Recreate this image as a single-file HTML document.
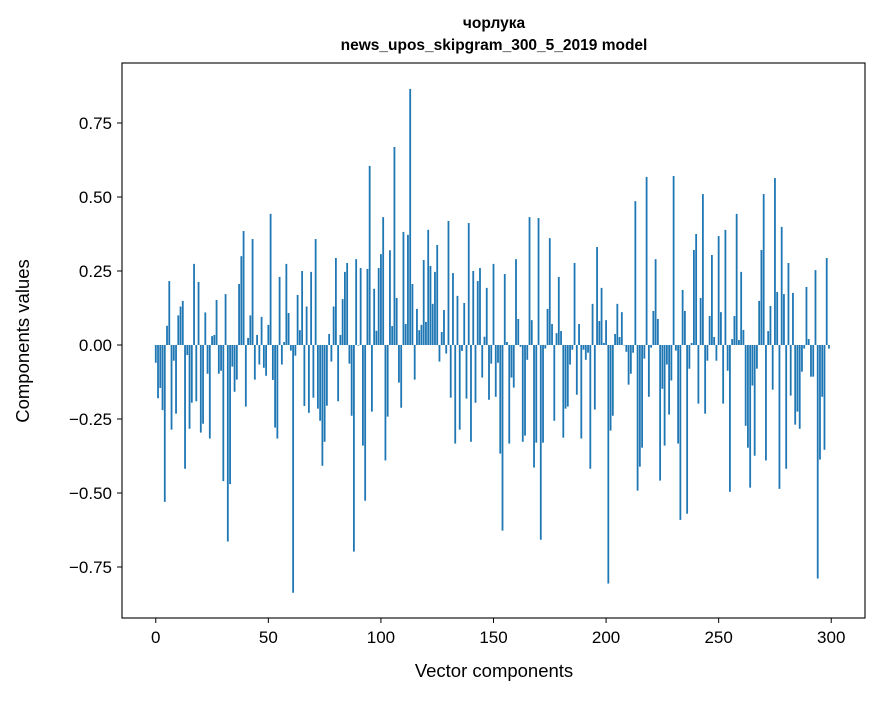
<!DOCTYPE html>
<html><head><meta charset="utf-8"><style>
body{margin:0;background:#fff;}
svg text{font-family:"Liberation Sans","DejaVu Sans",sans-serif;fill:#000;}
</style></head><body>
<svg id="chart" width="880" height="696" xmlns="http://www.w3.org/2000/svg">
<rect width="880" height="696" fill="#fff"/>
<text x="494" y="28" text-anchor="middle" font-size="15.5" font-weight="bold">чорлука</text>
<text x="494" y="50" text-anchor="middle" font-size="15.5" font-weight="bold">news_upos_skipgram_300_5_2019 model</text>
<g id="bars"></g>
<rect x="122" y="63" width="743" height="555" fill="none" stroke="#000" stroke-width="1.1"/>
<g id="xticks"></g>
<g id="yticks"></g>
<text x="494" y="677" text-anchor="middle" font-size="18.5">Vector components</text>
<text transform="translate(29,341) rotate(-90)" text-anchor="middle" font-size="18.5">Components values</text>
</svg>
<script>
const values = [-0.06,-0.18,-0.145,-0.22,-0.53,0.065,0.216,-0.286,-0.053,-0.232,
0.10,0.13,0.149,-0.418,-0.034,-0.283,-0.195,0.274,-0.19,0.213,
-0.296,-0.266,0.11,-0.097,-0.316,0.03,0.034,0.152,-0.097,-0.087,
-0.46,0.172,-0.664,-0.47,-0.073,-0.158,-0.117,0.206,0.30,0.385,
-0.208,0.024,0.10,0.358,-0.117,0.034,-0.066,0.095,-0.077,-0.104,
0.068,0.443,-0.118,-0.279,-0.316,0.23,-0.066,0.01,0.274,0.108,
-0.019,-0.837,-0.036,0.169,0.05,0.25,-0.206,0.13,-0.229,0.247,
-0.178,0.358,-0.215,-0.256,-0.408,-0.327,-0.205,0.037,-0.056,0.13,
0.294,-0.19,0.034,0.155,0.247,0.277,-0.063,-0.239,-0.698,0.29,
-0.002,0.26,-0.34,-0.526,0.257,0.605,-0.225,0.19,0.048,0.26,
0.307,0.432,-0.39,-0.242,0.32,0.064,0.669,0.159,-0.127,-0.212,
0.382,0.071,0.372,0.865,0.206,-0.117,0.122,0.05,0.068,0.287,
0.078,0.389,0.267,0.139,0.247,0.338,-0.056,0.044,0.118,-0.029,
0.419,-0.178,0.243,-0.333,0.166,-0.286,-0.02,0.142,-0.181,0.412,
-0.327,0.25,-0.195,0.216,0.26,-0.11,0.028,0.193,-0.185,-0.063,
0.274,-0.175,-0.06,-0.367,-0.627,0.24,0.01,-0.333,-0.11,-0.144,
0.29,0.088,-0.006,-0.327,-0.306,-0.05,0.432,0.084,-0.414,-0.33,
0.429,-0.658,-0.33,-0.012,0.122,0.361,0.071,-0.256,0.04,0.23,
0.047,-0.313,-0.215,-0.208,-0.066,-0.016,0.277,-0.168,0.071,-0.316,
-0.016,-0.05,-0.026,-0.418,0.139,-0.218,0.331,0.081,0.193,0.007,
0.084,-0.806,-0.289,-0.239,0.037,0.139,0.027,0.111,0.0,-0.023,
-0.134,-0.097,-0.026,0.486,-0.492,-0.411,-0.347,-0.046,0.568,-0.175,
-0.009,0.115,0.29,0.088,-0.458,-0.148,-0.34,-0.066,-0.235,-0.12,
0.571,-0.019,-0.333,-0.591,0.186,0.115,-0.57,-0.08,0.007,0.321,
0.375,-0.198,0.159,0.51,-0.232,-0.053,0.098,0.304,0.027,-0.053,
0.368,0.111,-0.198,0.389,-0.087,-0.496,0.02,0.098,0.443,0.017,
0.247,0.051,-0.273,-0.347,-0.482,-0.137,-0.374,-0.08,0.149,0.321,
0.51,-0.39,0.047,0.132,-0.151,0.564,0.179,-0.486,0.399,0.172,
-0.418,0.277,-0.171,0.176,-0.269,-0.225,-0.283,-0.09,-0.012,0.196,
0.02,-0.107,-0.107,0.253,-0.789,-0.387,-0.175,-0.354,0.294,-0.012];
const xTickValues = [0,50,100,150,200,250,300];
const yTickValues = [-0.75,-0.50,-0.25,0.00,0.25,0.50,0.75];
const yTickLabels = ["\u22120.75","\u22120.50","\u22120.25","0.00","0.25","0.50","0.75"];

const NS="http://www.w3.org/2000/svg";
function xScale(v){return 122 + (v+15)*(743/330);}
function yScale(v){return 345 - v*296;}
const bw = 0.8*(743/330);
const bars=document.getElementById('bars');
values.forEach((v,i)=>{
  const r=document.createElementNS(NS,'rect');
  
  
  const y0=yScale(0), y1=yScale(v);
  r.setAttribute('x',xScale(i)-bw/2);
  r.setAttribute('y',Math.min(y0,y1));
  r.setAttribute('width',bw);
  r.setAttribute('height',Math.max(Math.abs(y1-y0),0.3));
  r.setAttribute('fill','#1f77b4');
  bars.appendChild(r);
});
const xg=document.getElementById('xticks');
xTickValues.forEach(t=>{
  const x=xScale(t);
  const l=document.createElementNS(NS,'line');
  
  
  l.setAttribute('x1',x);l.setAttribute('x2',x);l.setAttribute('y1',618);l.setAttribute('y2',623);
  l.setAttribute('stroke','#000');
  xg.appendChild(l);
  const tx=document.createElementNS(NS,'text');
  
  
  tx.setAttribute('x',x);tx.setAttribute('y',643);
  tx.setAttribute('text-anchor','middle');tx.setAttribute('font-size','17');
  tx.textContent=String(t);
  xg.appendChild(tx);
});
const yg=document.getElementById('yticks');
yTickValues.forEach((t,i)=>{
  const y=yScale(t);
  const l=document.createElementNS(NS,'line');
  
  
  l.setAttribute('x1',117);l.setAttribute('x2',122);l.setAttribute('y1',y);l.setAttribute('y2',y);
  l.setAttribute('stroke','#000');
  yg.appendChild(l);
  const tx=document.createElementNS(NS,'text');
  
  
  tx.setAttribute('x',112);tx.setAttribute('y',y+6);
  tx.setAttribute('text-anchor','end');tx.setAttribute('font-size','17');
  tx.textContent=yTickLabels[i];
  yg.appendChild(tx);
});
</script>
</body></html>
